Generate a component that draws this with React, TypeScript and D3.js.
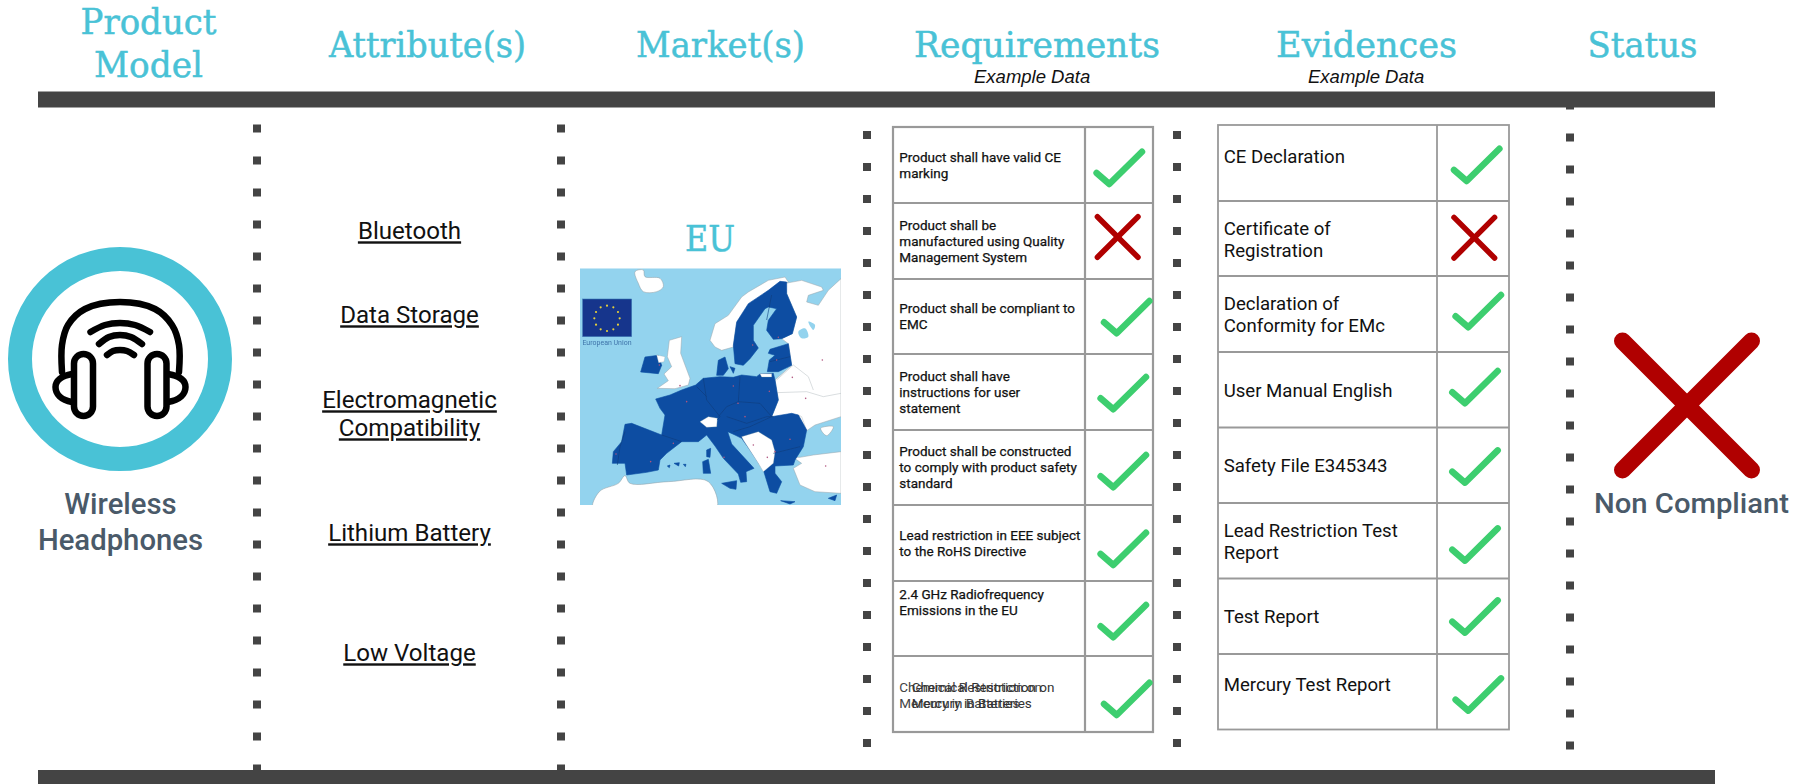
import React from "react";
import * as d3 from "d3";

// ---------- content ----------
const headers = ["Product|Model", "Attribute(s)", "Market(s)", "Requirements", "Evidences", "Status"];
const attributes = ["Bluetooth", "Data Storage", "Electromagnetic|Compatibility", "Lithium Battery", "Low Voltage"];
const requirements = [
  "Product shall have valid CE|marking",
  "Product shall be|manufactured using Quality|Management System",
  "Product shall be compliant to|EMC",
  "Product shall have|instructions for user|statement",
  "Product shall be constructed|to comply with product safety|standard",
  "Lead restriction in EEE subject|to the RoHS Directive",
  "2.4 GHz Radiofrequency|Emissions in the EU",
  "Chemical Restriction on|Mercury in Batteries",
];
const requirementStatus = [1, 0, 1, 1, 1, 1, 1, 1];
const evidences = [
  "CE Declaration",
  "Certificate of|Registration",
  "Declaration of|Conformity for EMc",
  "User Manual English",
  "Safety File E345343",
  "Lead Restriction Test|Report",
  "Test Report",
  "Mercury Test Report",
];
const evidenceStatus = [1, 0, 1, 1, 1, 1, 1, 1];

// ---------- layout ----------
const headerLeft = [null, 329, 636, 914, 1276, 1587.5];
const headerWidth = [null, 197, 169, 246, 181, 110];
const reqRowEdges = [127, 203, 279, 354, 430, 505, 581, 656, 732];
const evRowEdges = [125, 201, 276, 352, 427.5, 503, 578.5, 654, 729.5];
const reqBaselines = [[161.5, 178], [230, 246, 262], [313, 329], [381, 397, 413], [456, 472, 488], [540, 556], [599, 615], [692, 708]];
const evBaselines = [[163], [235, 257], [310, 332], [397], [471.5], [536.5, 559], [623], [691]];
const reqMarkX = [1109.3, 1117.7, 1116.7, 1113.3, 1113.3, 1113.3, 1113.3, 1116.7];
const reqMarkY = [184, 237, 333.3, 409.3, 487.3, 565, 637.3, 715];
const evMarkX = [1466.7, 1474.3, 1468.3, 1465, 1465, 1465, 1465, 1468.3];
const evMarkY = [181, 237.7, 327.3, 403.3, 482.7, 560.7, 632.7, 710.7];
const attrBaselines = [[239.3], [323.3], [408.3, 436.3], [541.3], [661.3]];
const dotColumns = [
  { x: 257, start: 128.5, count: 21 },
  { x: 561, start: 128.5, count: 21 },
  { x: 867, start: 135, count: 20 },
  { x: 1177, start: 135, count: 20 },
  { x: 1570, start: 105.5, count: 21 },
];

// check mark shape, relative to its lowest vertex
const checkShape: [number, number][] = [[-12.7, -11], [0, 0], [32.7, -32.3]];
const line = d3.line();

// ---------- headphone icon (picture px) ----------
const waves: [number, number][][] = [
  [[90.5, 332], [105, 325], [120, 323], [135, 325], [150, 332]],
  [[99, 344], [109, 337], [120, 335], [131, 337], [142, 344]],
  [[107, 355], [113, 351], [120, 350], [127, 351], [134, 355]],
];
const band: [number, number][] = [[62, 372], [62, 345], [68, 325], [85, 309], [120, 302], [155, 309], [172, 325], [179, 345], [179, 372]];

// ---------- map: polygons in the map's own grid ----------
const mapX = d3.scaleLinear().domain([0, 900]).range([560, 860]);
const mapY = d3.scaleLinear().domain([0, 900]).range([220, 520]);
const closed = d3.line().x((d) => mapX(d[0])).y((d) => mapY(d[1])).curve(d3.curveCatmullRomClosed.alpha(0.5));
const sharp = d3.line().x((d) => mapX(d[0])).y((d) => mapY(d[1]));

const whiteLand: [number, number][][] = [
  [[225, 155], [250, 150], [255, 170], [300, 175], [310, 200], [290, 215], [250, 215], [235, 190]],
  [[100, 870], [118, 815], [175, 790], [195, 767], [210, 790], [325, 785], [445, 785], [468, 870]],
  [[782, 625], [820, 620], [800, 647]],
];
const whiteSharp: [number, number][][] = [
  [[328, 361], [365, 350], [362, 400], [375, 435], [390, 475], [385, 495], [345, 506], [292, 505], [325, 482], [312, 462], [335, 440], [322, 410]],
  [[450, 361], [465, 311], [505, 286], [545, 231], [565, 216], [625, 181], [675, 171], [685, 186], [625, 215], [565, 255], [530, 310], [520, 381], [485, 391], [465, 381]],
  [[700, 745], [725, 730], [700, 712], [720, 712], [760, 705], [843, 695], [843, 820], [765, 815], [720, 795]],
  [[676, 190], [725, 181], [785, 201], [790, 211], [745, 226], [740, 246], [775, 256], [805, 211], [843, 176], [843, 590], [765, 615], [740, 632], [715, 585], [635, 590], [655, 540], [645, 480], [695, 436], [685, 371], [665, 356], [697, 341], [710, 291], [680, 221]],
];
const blueLand: [number, number][][] = [
  [[287, 537], [330, 525], [365, 510], [407, 495], [430, 475], [480, 470], [520, 472], [545, 465], [590, 470], [600, 462], [640, 460], [645, 480], [655, 540], [635, 590], [695, 580], [715, 585], [740, 630], [730, 680], [705, 720], [700, 735], [645, 738], [645, 760], [665, 785], [650, 820], [630, 815], [610, 750], [570, 690], [545, 655], [525, 645], [503, 635], [515, 672], [582, 745], [558, 755], [560, 785], [542, 787], [535, 762], [490, 715], [465, 678], [440, 645], [415, 665], [365, 665], [320, 700], [300, 720], [295, 750], [260, 757], [200, 765], [195, 730], [157, 730], [160, 695], [185, 665], [195, 613], [215, 610], [305, 645], [315, 585], [300, 565]],
  [[530, 306], [565, 251], [625, 211], [660, 184], [680, 186], [680, 221], [710, 291], [697, 341], [665, 356], [640, 358], [620, 331], [625, 301], [650, 266], [625, 261], [615, 266], [580, 316], [580, 361], [595, 384], [570, 416], [550, 436], [525, 431], [520, 376]],
  [[630, 388], [685, 371], [695, 436], [655, 455], [622, 455], [628, 420], [645, 406], [625, 400]],
  [[475, 421], [495, 411], [505, 446], [490, 466], [470, 466]],
  [[510, 440], [525, 445], [520, 460]],
  [[242, 456], [255, 411], [295, 406], [305, 436], [295, 461]],
  [[428, 725], [445, 718], [452, 760], [430, 760]],
  [[440, 690], [452, 685], [450, 712], [440, 710]],
  [[485, 790], [530, 782], [528, 808], [510, 805]],
  [[662, 842], [705, 845], [690, 852]],
  [[805, 835], [830, 825], [825, 842]],
  [[322, 738], [330, 735], [328, 743]],
  [[342, 730], [358, 728], [356, 738]],
  [[370, 733], [378, 733], [376, 740]],
];
const whiteOver: [number, number][][] = [
  [[420, 605], [445, 590], [472, 595], [470, 620], [440, 622]],
  [[545, 650], [595, 635], [635, 660], [645, 695], [640, 730], [610, 755], [595, 730], [550, 660]],
  [[600, 461], [635, 461], [635, 471], [605, 471]],
  [[290, 405], [315, 410], [312, 425], [296, 428]],
];
const lakes: [number, number][][] = [
  [[715, 335], [735, 325], [745, 350], [725, 355]],
  [[745, 305], [765, 315], [760, 330]],
];
const borders: [number, number][][] = [
  [[430, 475], [440, 540], [480, 590], [472, 600]],
  [[195, 635], [180, 680], [172, 735]],
  [[305, 645], [365, 665]],
  [[540, 470], [535, 545], [500, 560], [475, 590]],
  [[535, 545], [600, 550], [635, 590]],
  [[500, 590], [560, 610], [620, 590], [640, 590]],
  [[520, 635], [570, 620], [635, 590]],
  [[640, 700], [720, 680]],
  [[635, 225], [620, 300]],
  [[630, 425], [690, 410]],
  [[410, 500], [440, 530]],
];
const landLines: [number, number][][] = [
  [[650, 518], [740, 515], [790, 530], [843, 520]],
  [[650, 480], [700, 435], [745, 470], [760, 510]],
  [[715, 585], [725, 590], [740, 632]],
];
const capitals: [number, number][] = [[360, 497], [787, 420], [697, 472], [737, 535], [797, 738], [168, 702], [272, 725], [380, 545], [520, 498], [628, 514], [534, 550], [555, 590], [690, 658], [645, 695], [580, 675], [622, 712], [340, 670], [492, 712], [298, 435], [578, 375], [655, 352], [650, 420]];
const flagStars = d3.range(12);

function lines(s: string) {
  return s.split("|");
}

function Check({ x, y }: { x: number; y: number }) {
  return (
    <path
      transform={`translate(${x},${y})`}
      d={line(checkShape) as string}
      fill="none"
      stroke="#3dce6f"
      strokeWidth={6.5}
      strokeLinecap="round"
      strokeLinejoin="round"
    />
  );
}

function Cross({ x, y, r, w }: { x: number; y: number; r: number; w: number }) {
  return (
    <g stroke="#b00000" strokeWidth={w} strokeLinecap="round">
      <line x1={x - r} y1={y - r} x2={x + r} y2={y + r} />
      <line x1={x - r} y1={y + r} x2={x + r} y2={y - r} />
    </g>
  );
}

function Table({ left, mid, right, edges, labels, baselines, status, markX, markY, size, strokeW, textX, boldStroke, lightLast }: any) {
  return (
    <g>
      <g stroke="#999" strokeWidth={strokeW} fill="none">
        <rect x={left} y={edges[0]} width={right - left} height={edges[edges.length - 1] - edges[0]} fill="#fff" />
        <line x1={mid} x2={mid} y1={edges[0]} y2={edges[edges.length - 1]} />
        {edges.slice(1, -1).map((e: number, i: number) => (
          <line key={i} x1={left} x2={right} y1={e} y2={e} />
        ))}
      </g>
      {labels.map((l: string, i: number) => {
        const light = lightLast && i === labels.length - 1;
        return (
          <g key={i}>
            {lines(l).map((t, j) => (
              <text
                key={j}
                x={textX}
                y={baselines[i][j]}
                fontFamily="Roboto"
                fontSize={size}
                fill={light ? "#444" : "#111"}
                stroke={light ? "none" : "#111"}
                strokeWidth={light ? 0 : boldStroke}
              >
                {t}
              </text>
            ))}
            {status[i] ? <Check x={markX[i]} y={markY[i]} /> : <Cross x={markX[i]} y={markY[i]} r={20.3} w={5.5} />}
          </g>
        );
      })}
    </g>
  );
}

export default function App() {
  const dark = "#444444";
  const teal = "#49c2d6";
  const slate = "#4a5a69";
  const titleFont = "'DejaVu Serif'";
  return (
    <svg width={1803} height={784} style={{ position: "absolute", left: 0, top: 0, display: "block" }}>
      <rect width={1803} height={784} fill="#fff" />

      {/* dotted separators */}
      {dotColumns.map((c, i) =>
        d3.range(c.count).map((k) => (
          <rect key={`${i}-${k}`} x={c.x - 4} y={c.start + k * 32 - 4} width={8} height={8} fill={dark} />
        ))
      )}
      {/* heavy rules */}
      <rect x={38} y={91.5} width={1677} height={16} fill={dark} />
      <rect x={38} y={770} width={1677} height={14} fill={dark} />

      {/* headers */}
      <g stroke={teal} strokeWidth={0.5}>
        <text x={148.5} y={33.5} textAnchor="middle" fontFamily={titleFont} fontSize={36} fill={teal} textLength={136} lengthAdjust="spacingAndGlyphs">
          {lines(headers[0])[0]}
        </text>
        <text x={148.5} y={76.5} textAnchor="middle" fontFamily={titleFont} fontSize={36} fill={teal} textLength={109} lengthAdjust="spacingAndGlyphs">
          {lines(headers[0])[1]}
        </text>
        {headers.slice(1).map((h, i) => (
          <text key={h} x={headerLeft[i + 1] as number} y={57} fontFamily={titleFont} fontSize={36} fill={teal} textLength={headerWidth[i + 1] as number} lengthAdjust="spacingAndGlyphs">
            {h}
          </text>
        ))}
        <text x={710} y={251} textAnchor="middle" fontFamily={titleFont} fontSize={36} fill={teal} textLength={50} lengthAdjust="spacingAndGlyphs">EU</text>
      </g>
      <text x={974} y={83} fontFamily="'Liberation Sans'" fontStyle="italic" fontSize={18.5} fill="#111">Example Data</text>
      <text x={1308} y={83} fontFamily="'Liberation Sans'" fontStyle="italic" fontSize={18.5} fill="#111">Example Data</text>

      {/* product */}
      <circle cx={120} cy={359} r={100} fill="#fff" stroke={teal} strokeWidth={24} />
      <g fill="none" stroke="#000" strokeWidth={6.5} strokeLinecap="round" strokeLinejoin="round">
        <path d={d3.line().curve(d3.curveCatmullRom)(band) as string} />
        {waves.map((w, i) => (
          <path key={i} d={d3.line().curve(d3.curveCatmullRom)(w) as string} />
        ))}
        <rect x={74} y={354} width={19} height={62} rx={9.5} fill="#fff" />
        <rect x={147.5} y={354} width={19} height={62} rx={9.5} fill="#fff" />
        <path d="M72 374 C 61 376 55.5 381 55.5 387 C 55.5 394 61 400 72 402" />
        <path d="M168 374 C 180 376 185.5 381 185.5 387 C 185.5 394 180 400 168 402" />
      </g>
      <text x={120.5} y={514} textAnchor="middle" fontFamily="Roboto" fontWeight={500} fontSize={29.3} fill={slate}>Wireless</text>
      <text x={120.5} y={550} textAnchor="middle" fontFamily="Roboto" fontWeight={500} fontSize={29.3} fill={slate}>Headphones</text>

      {/* attributes */}
      {attributes.map((a, i) =>
        lines(a).map((t, j) => (
          <text key={t} x={409.5} y={attrBaselines[i][j]} textAnchor="middle" fontFamily="Roboto" fontSize={24.1} fill="#111" textDecoration="underline">
            {t}
          </text>
        ))
      )}

      {/* market */}
      <defs>
        <filter id="soft" x="0" y="0" width="1" height="1">
          <feGaussianBlur stdDeviation="0.4" />
        </filter>
        <clipPath id="mapclip">
          <rect x={mapX(60)} y={mapY(145)} width={mapX(843) - mapX(60)} height={mapY(855) - mapY(145)} />
        </clipPath>
      </defs>
      <g clipPath="url(#mapclip)">
        <g filter="url(#soft)">
          <rect x={mapX(60)} y={mapY(145)} width={mapX(843) - mapX(60)} height={mapY(855) - mapY(145)} fill="#93d3ee" />
          {whiteLand.map((p, i) => <path key={i} d={closed(p) as string} fill="#fff" stroke="#8f9aa0" strokeWidth={0.5} />)}
          {whiteSharp.map((p, i) => <path key={i} d={(sharp(p) as string) + "Z"} fill="#fff" stroke="#9aa5ab" strokeWidth={0.5} strokeLinejoin="round" />)}
          {landLines.map((p, i) => <path key={i} d={sharp(p) as string} fill="none" stroke="#b4bcc0" strokeWidth={0.5} />)}
          {blueLand.map((p, i) => <path key={i} d={(sharp(p) as string) + "Z"} fill="#0a4ea2" stroke="#0a4ea2" strokeWidth={0.6} strokeLinejoin="round" />)}
          {whiteOver.map((p, i) => <path key={i} d={(sharp(p) as string) + "Z"} fill="#fff" stroke="#9aa5ab" strokeWidth={0.3} strokeLinejoin="round" />)}
          {lakes.map((p, i) => <path key={i} d={closed(p) as string} fill="#93d3ee" />)}
          {borders.map((p, i) => <path key={i} d={sharp(p) as string} fill="none" stroke="#083a7c" strokeWidth={0.6} />)}
          {capitals.map((c, i) => <circle key={i} cx={mapX(c[0])} cy={mapY(c[1])} r={0.8} fill="#b0557f" />)}
          <rect x={mapX(68)} y={mapY(237)} width={mapX(215) - mapX(68)} height={mapY(350) - mapY(237)} fill="#12358c" stroke="#3f78b5" strokeWidth={0.6} />
          {flagStars.map((s) => (
            <circle key={s} cx={mapX(141 + 38 * Math.cos((s * Math.PI) / 6))} cy={mapY(295 + 38 * Math.sin((s * Math.PI) / 6))} r={1.1} fill="#e8cf3a" />
          ))}
          <text x={mapX(141)} y={mapY(374)} textAnchor="middle" fontFamily="Roboto" fontSize={7} fill="#3f74aa">European Union</text>
        </g>
      </g>

      {/* tables */}
      <Table left={893} mid={1085} right={1153} edges={reqRowEdges} labels={requirements} baselines={reqBaselines} status={requirementStatus} markX={reqMarkX} markY={reqMarkY} size={13.5} strokeW={2.2} textX={899.3} boldStroke={0.25} lightLast />
      <Table left={1218} mid={1437} right={1509} edges={evRowEdges} labels={evidences} baselines={evBaselines} status={evidenceStatus} markX={evMarkX} markY={evMarkY} size={18.6} strokeW={1.8} textX={1223.7} boldStroke={0} />
      {lines(requirements[7]).map((t, j) => (
        <text key={t} x={911.7} y={reqBaselines[7][j]} fontFamily="Roboto" fontSize={13.5} fill="#333">{t}</text>
      ))}

      {/* status */}
      <Cross x={1687} y={405.5} r={64.5} w={17} />
      <text x={1691.5} y={512.5} textAnchor="middle" fontFamily="Roboto" fontWeight={500} fontSize={28} fill={slate} textLength={195} lengthAdjust="spacingAndGlyphs">Non Compliant</text>
    </svg>
  );
}
